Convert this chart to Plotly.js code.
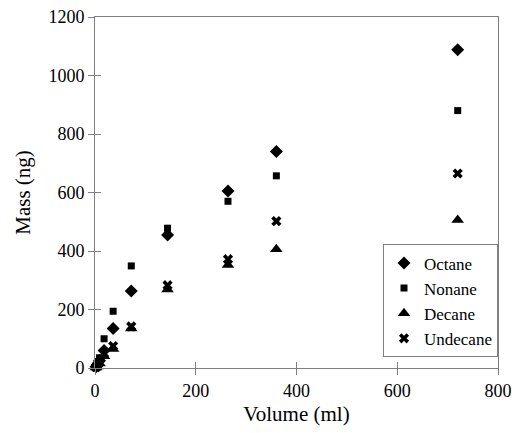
<!DOCTYPE html>
<html>
<head>
<meta charset="utf-8">
<script src="https://cdn.plot.ly/plotly-3.0.1.min.js"></script>
<style>html,body{margin:0;padding:0;background:#fff;}
#chart{width:512px;height:433px;}</style>
</head>
<body>
<div id="chart"></div>
<script>
const volume = [2, 4.5, 9, 18, 36, 72, 144, 264, 360, 720];
const octane   = [4, 10, 25, 60, 135, 263, 455, 605, 740, 1088];
const nonane   = [6, 15, 35, 100, 194, 349, 478, 570, 657, 880];
const decane   = [2, 5, 15, 40, 65, 135, 268, 352, 406, 506];
const undecane = [3, 8, 20, 50, 75, 142, 283, 372, 502, 665];
const seriesNames = ["Octane", "Nonane", "Decane", "Undecane"];
const xTicks = [0, 200, 400, 600, 800];
const yTicks = [0, 200, 400, 600, 800, 1000, 1200];

const symbols = ["diamond", "square", "triangle-up", "x"];
const sizes = [10, 7, 11, 9];
const seriesData = [octane, nonane, decane, undecane];

const traces = seriesData.map((vals, i) => ({
  type: "scatter", mode: "markers", name: seriesNames[i],
  x: volume, y: vals, cliponaxis: false,
  marker: {symbol: symbols[i], size: sizes[i], color: "#000", line: {width: 0}}
}));
traces.push({type: "scatter", mode: "markers", x: [0], y: [0], xaxis: "x2", yaxis: "y2",
  showlegend: false, hoverinfo: "skip", marker: {opacity: 0}});

const FAM = "Liberation Serif, Times New Roman, serif";
const layout = {
  width: 512, height: 433,
  margin: {l: 95, r: 14, t: 17, b: 65},
  paper_bgcolor: "#fff", plot_bgcolor: "#fff",
  font: {family: FAM, size: 20, color: "#000"},
  showlegend: true,
  xaxis: {
    range: [0, 800], tickvals: xTicks, ticktext: xTicks.map(String),
    showgrid: false, zeroline: false, showline: true, mirror: true,
    linecolor: "#808080", linewidth: 1,
    ticks: "outside", ticklen: 6, tickcolor: "#808080",
    tickfont: {family: FAM, size: 18},
    title: {text: "Volume (ml)", font: {family: FAM, size: 21}, standoff: 6}
  },
  yaxis: {
    range: [0, 1200], tickvals: yTicks, ticktext: yTicks.map(String),
    showgrid: false, zeroline: false, showline: true, mirror: true,
    linecolor: "#808080", linewidth: 1,
    ticks: "outside", ticklen: 6, tickcolor: "#808080",
    tickfont: {family: FAM, size: 18},
    title: {text: "Mass (ng)", font: {family: FAM, size: 21}, standoff: 12}
  },
  xaxis2: {overlaying: "x", range: [0, 800], tickvals: xTicks, showticklabels: false,
    showgrid: false, zeroline: false, showline: false, ticks: "inside", ticklen: 6, tickcolor: "#808080"},
  yaxis2: {overlaying: "y", range: [0, 1200], tickvals: yTicks, showticklabels: false,
    showgrid: false, zeroline: false, showline: false, ticks: "inside", ticklen: 6, tickcolor: "#808080"},
  legend: {
    x: 1, xanchor: "right", y: 0.03, yanchor: "bottom",
    bgcolor: "#fff", bordercolor: "#808080", borderwidth: 1,
    font: {family: FAM, size: 17}, tracegroupgap: 0,
    itemwidth: 30
  }
};
Plotly.newPlot("chart", traces, layout, {displayModeBar: false, staticPlot: true});
</script>
</body>
</html>
